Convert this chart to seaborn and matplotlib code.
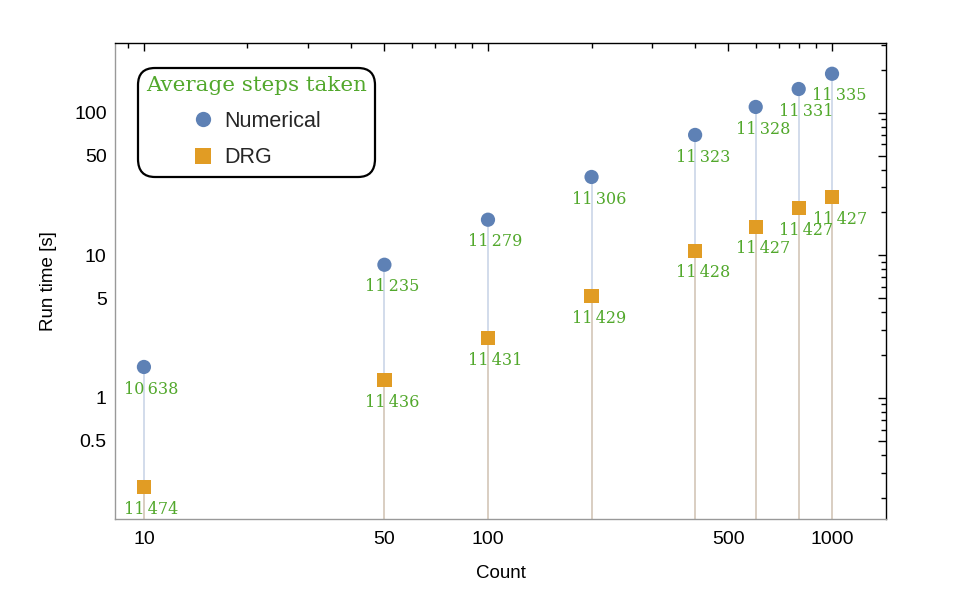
import matplotlib
matplotlib.use("Agg")
import matplotlib.pyplot as plt
import seaborn as sns
import pandas as pd
from matplotlib.ticker import FixedLocator, FixedFormatter, NullFormatter

# ---------------- data ----------------
counts = [10, 50, 100, 200, 400, 600, 800, 1000]
numerical_time = [1.65, 8.6, 17.8, 35.5, 70, 110, 147, 188]
drg_time = [0.237, 1.34, 2.64, 5.2, 10.8, 15.9, 21.5, 25.7]
numerical_steps = [10638, 11235, 11279, 11306, 11323, 11328, 11331, 11335]
drg_steps = [11474, 11436, 11431, 11429, 11428, 11427, 11427, 11427]
series_names = ["Numerical", "DRG"]
x_tick_labels = ["10", "50", "100", "500", "1000"]
y_tick_labels = ["0.5", "1", "5", "10", "50", "100"]
legend_title = "Average steps taken"
x_label = "Count"
y_label = "Run time [s]"

blue = "#5e81b5"
orange = "#e19c24"
green = "#52a82c"

df = pd.DataFrame({
    "count": counts + counts,
    "time": numerical_time + drg_time,
    "steps": numerical_steps + drg_steps,
    "method": [series_names[0]] * len(counts) + [series_names[1]] * len(counts),
})

sns.set_theme(style="white")
plt.rcParams["font.family"] = ["Liberation Sans", "DejaVu Sans"]

fig = plt.figure(figsize=(9.68, 6.12), dpi=100)
ax = fig.add_axes([115 / 968, 1 - 519 / 612, (886 - 115) / 968, (519 - 43) / 612])
ax.set_xscale("log")
ax.set_yscale("log")
xlim = (8.24, 1435)
ylim = (0.1416, 309)
ax.set_xlim(*xlim)
ax.set_ylim(*ylim)

# stems
ax.vlines(counts, ylim[0], numerical_time, colors="#cbd5e8", linewidth=1.2, zorder=1)
ax.vlines(counts, ylim[0], drg_time, colors="#dccdbb", linewidth=1.2, zorder=1.5)

sns.scatterplot(data=df, x="count", y="time", hue="method", style="method",
                palette={series_names[0]: blue, series_names[1]: orange},
                markers={series_names[0]: "o", series_names[1]: "s"},
                s=105, linewidth=0, ax=ax, zorder=3, legend=True)

# point labels
def fmt(v):
    return f"{v:,}".replace(",", "\u2009")

for x, y, st in zip(df["count"], df["time"], df["steps"]):
    ax.annotate(fmt(st), (x, y), xytext=(5.5, -16), textcoords="offset points",
                ha="center", va="center", color=green, fontsize=11.5,
                family=["DejaVu Serif"], zorder=4)

# ticks
xt = [float(t) for t in x_tick_labels]
yt = [float(t) for t in y_tick_labels]
ax.xaxis.set_major_locator(FixedLocator(xt))
ax.xaxis.set_major_formatter(FixedFormatter(x_tick_labels))
xminor = [m * d for d in (1, 10, 100, 1000) for m in range(1, 10)]
xminor = [v for v in xminor if v not in xt]
ax.xaxis.set_minor_locator(FixedLocator(xminor))
ax.xaxis.set_minor_formatter(NullFormatter())
ax.yaxis.set_major_locator(FixedLocator(yt))
ax.yaxis.set_major_formatter(FixedFormatter(y_tick_labels))
yminor = [m * d for d in (0.1, 1, 10, 100) for m in range(1, 10)]
yminor = [v for v in yminor if v not in yt]
ax.yaxis.set_minor_locator(FixedLocator(yminor))
ax.yaxis.set_minor_formatter(NullFormatter())

ax.tick_params(which="both", direction="in", top=True, right=True, color="black",
               width=1, labelsize=14, labelcolor="black")
ax.tick_params(axis="x", which="both", pad=9)
ax.tick_params(axis="y", which="both", pad=6)
ax.tick_params(which="major", length=6)
ax.tick_params(which="minor", length=3.5)

for side in ("left", "bottom"):
    ax.spines[side].set_color("#999999")
for side in ("top", "right"):
    ax.spines[side].set_color("black")
for sp in ax.spines.values():
    sp.set_linewidth(1)

ax.set_xlabel(x_label, fontsize=13.5, color="black", labelpad=12)
ax.set_ylabel(y_label, fontsize=13.5, color="black", labelpad=12)

# legend
handles, labels = ax.get_legend_handles_labels()
for h in handles:
    try:
        h.set_markersize(11)
    except Exception:
        pass
leg = ax.legend(handles, labels, title=legend_title, loc="upper left",
                bbox_to_anchor=(0.03, 0.947), borderaxespad=0, frameon=True,
                fontsize=15.5, handletextpad=0.5, labelspacing=0.72, borderpad=0.38,
                handlelength=0.93, fancybox=True)
leg.get_title().set_color(green)
leg.get_title().set_fontsize(15.4)
leg.get_title().set_family(["DejaVu Serif"])
frame = leg.get_frame()
frame.set_edgecolor("black")
frame.set_linewidth(1.6)
frame.set_facecolor("white")
frame.set_alpha(1)
frame.set_boxstyle("round,pad=0,rounding_size=0.8")

fig.savefig("out.png", dpi=100)
